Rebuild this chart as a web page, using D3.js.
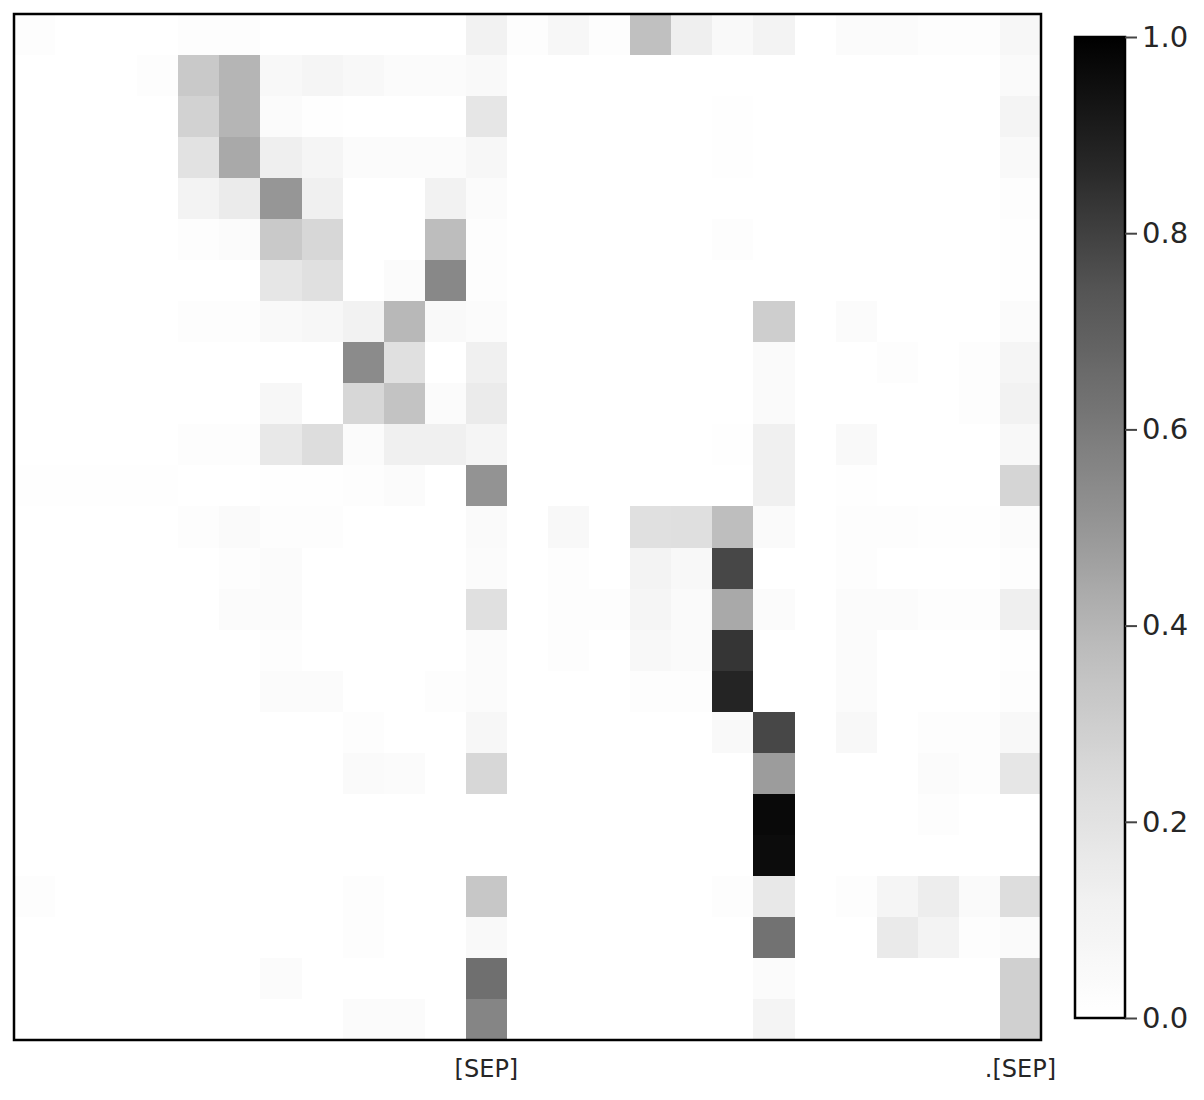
<!DOCTYPE html>
<html>
<head>
<meta charset="utf-8">
<script src="https://cdn.jsdelivr.net/npm/d3@7"></script>
<style>
  body { margin: 0; background: #fff; }
  svg text { font-family: "DejaVu Sans", sans-serif; fill: #262626; }
</style>
</head>
<body>
<div id="chart"></div>
<script>
// x tokens (only two are labelled on the axis)
var tokens = ["", "", "", "", "", "", "", "", "", "", "", "[SEP]",
              "", "", "", "", "", "", "", "", "", "", "", "", ".[SEP]"];

// attention weights, one row per query token
var weights = [
  [.02,0,0,0,.02,.02,0,0,0,0,0,.11,.02,.07,.02,.36,.13,.05,.10,0,.03,.03,.02,.02,.07],
  [0,0,0,.02,.32,.40,.06,.08,.06,.03,.03,.05,0,0,0,0,0,0,0,0,0,0,0,0,.04],
  [0,0,0,0,.28,.40,.03,.01,0,0,0,.18,0,0,0,0,0,.01,0,0,0,0,0,0,.09],
  [0,0,0,0,.20,.44,.13,.08,.03,.03,.03,.07,0,0,0,0,0,.01,0,0,0,0,0,0,.05],
  [0,0,0,0,.10,.15,.50,.125,0,0,.11,.03,0,0,0,0,0,0,0,0,0,0,0,0,.02],
  [0,0,0,0,.02,.03,.32,.26,0,0,.375,.02,0,0,0,0,0,.02,0,0,0,0,0,0,.01],
  [0,0,0,0,0,0,.18,.21,0,.03,.55,.02,0,0,0,0,0,0,0,0,0,0,0,0,.01],
  [0,0,0,0,.02,.02,.05,.07,.11,.39,.05,.03,0,0,0,0,0,0,.30,0,.03,0,0,0,.03],
  [0,0,0,0,0,0,0,0,.54,.21,0,.125,0,0,0,0,0,0,.04,0,0,.02,0,.02,.08],
  [0,0,0,0,0,0,.07,0,.26,.35,.03,.15,0,0,0,0,0,0,.04,0,0,0,0,.02,.11],
  [0,0,0,0,.02,.02,.17,.23,.03,.125,.125,.08,0,0,0,0,0,.01,.125,0,.05,0,0,0,.06],
  [.01,.01,.01,.01,0,0,.01,.01,.02,.03,0,.51,0,0,0,0,0,0,.125,0,.01,0,0,0,.27],
  [0,0,0,0,.02,.04,.02,.02,0,0,0,.04,0,.06,0,.21,.22,.37,.04,0,.02,.02,.01,.01,.03],
  [0,0,0,0,0,.02,.03,0,0,0,0,.03,0,.02,0,.10,.06,.78,0,0,.02,0,0,0,.02],
  [0,0,0,0,0,.03,.03,0,0,0,0,.21,0,.02,.02,.08,.04,.44,.03,0,.03,.03,.02,.02,.13],
  [0,0,0,0,0,0,.02,0,0,0,0,.03,0,.02,0,.06,.04,.83,0,0,.03,0,0,0,.01],
  [0,0,0,0,0,0,.03,.03,0,0,.02,.03,0,0,0,.02,.02,.88,0,0,.03,0,0,0,.02],
  [0,0,0,0,0,0,0,0,.02,0,0,.07,0,0,0,0,0,.05,.78,0,.06,0,.02,.02,.06],
  [0,0,0,0,0,0,0,0,.04,.03,0,.26,0,0,0,0,0,0,.48,0,0,0,.03,.02,.18],
  [0,0,0,0,0,0,0,0,0,0,0,0,0,0,0,0,0,0,.97,0,0,0,.02,0,0],
  [0,0,0,0,0,0,0,0,0,0,0,0,0,0,0,0,0,0,.96,0,0,0,0,0,0],
  [.02,0,0,0,0,0,0,0,.02,0,0,.33,0,0,0,0,0,.02,.17,0,.02,.08,.14,.04,.23],
  [0,0,0,0,0,0,0,0,.02,0,0,.05,0,0,0,0,0,0,.63,0,0,.16,.10,.02,.04],
  [0,0,0,0,0,0,.03,0,0,0,0,.64,0,0,0,0,0,0,.03,0,0,0,0,0,.29],
  [0,0,0,0,0,0,0,0,.03,.03,0,.56,0,0,0,0,0,0,.09,0,0,0,0,0,.29]
];

// colorbar ticks
var colorTicks = [0, 0.2, 0.4, 0.6, 0.8, 1.0];

// matplotlib "Greys" ramp
var greys = ["#ffffff", "#f0f0f0", "#d9d9d9", "#bdbdbd", "#969696", "#737373", "#525252", "#252525", "#000000"];

var W = 1204, H = 1100;
var plot = { left: 14, top: 14, right: 1041, bottom: 1040 };
var cbar = { left: 1075, right: 1125, top: 37, bottom: 1018 };

var color = d3.scaleLinear()
    .domain(greys.map(function (d, i) { return i / (greys.length - 1); }))
    .range(greys)
    .clamp(true);

var svg = d3.select("#chart").append("svg")
    .attr("width", W)
    .attr("height", H);

var x = d3.scaleBand().domain(d3.range(tokens.length)).range([plot.left, plot.right]);
var y = d3.scaleBand().domain(d3.range(weights.length)).range([plot.top, plot.bottom]);

// cells
var cells = [];
weights.forEach(function (row, r) {
    row.forEach(function (v, c) { cells.push({ r: r, c: c, v: v }); });
});

svg.append("g")
    .attr("shape-rendering", "crispEdges")
    .selectAll("rect")
    .data(cells)
    .enter()
    .append("rect")
    .attr("x", function (d) { return x(d.c); })
    .attr("y", function (d) { return y(d.r); })
    .attr("width", x.bandwidth() + 0.5)
    .attr("height", y.bandwidth() + 0.5)
    .attr("fill", function (d) { return color(d.v); });

// frame
svg.append("rect")
    .attr("x", plot.left)
    .attr("y", plot.top)
    .attr("width", plot.right - plot.left)
    .attr("height", plot.bottom - plot.top)
    .attr("fill", "none")
    .attr("stroke", "#000")
    .attr("stroke-width", 2.5);

// x tick labels
var xAxis = svg.append("g")
    .attr("transform", "translate(0," + plot.bottom + ")")
    .call(d3.axisBottom(x).tickSize(0).tickPadding(20).tickFormat(function (i) { return tokens[i]; }));
xAxis.select(".domain").remove();
xAxis.selectAll("text")
    .style("font-size", "24px")
    .attr("fill", "#262626");

// colorbar
var defs = svg.append("defs");
var grad = defs.append("linearGradient")
    .attr("id", "cbgrad")
    .attr("x1", 0).attr("y1", 1).attr("x2", 0).attr("y2", 0);
d3.range(0, 1.0001, 0.02).forEach(function (t) {
    grad.append("stop").attr("offset", t).attr("stop-color", color(t));
});

svg.append("rect")
    .attr("x", cbar.left)
    .attr("y", cbar.top)
    .attr("width", cbar.right - cbar.left)
    .attr("height", cbar.bottom - cbar.top)
    .attr("fill", "url(#cbgrad)")
    .attr("stroke", "#000")
    .attr("stroke-width", 2.5);

var cy = d3.scaleLinear().domain([0, 1]).range([cbar.bottom, cbar.top]);
var cAxis = svg.append("g")
    .attr("transform", "translate(" + cbar.right + ",0)")
    .call(d3.axisRight(cy).tickValues(colorTicks).tickSize(12).tickPadding(5).tickFormat(d3.format(".1f")));
cAxis.select(".domain").remove();
cAxis.selectAll("line").attr("stroke", "#444").attr("stroke-width", 2);
cAxis.selectAll("text")
    .style("font-size", "29px")
    .attr("fill", "#262626");
</script>
</body>
</html>
